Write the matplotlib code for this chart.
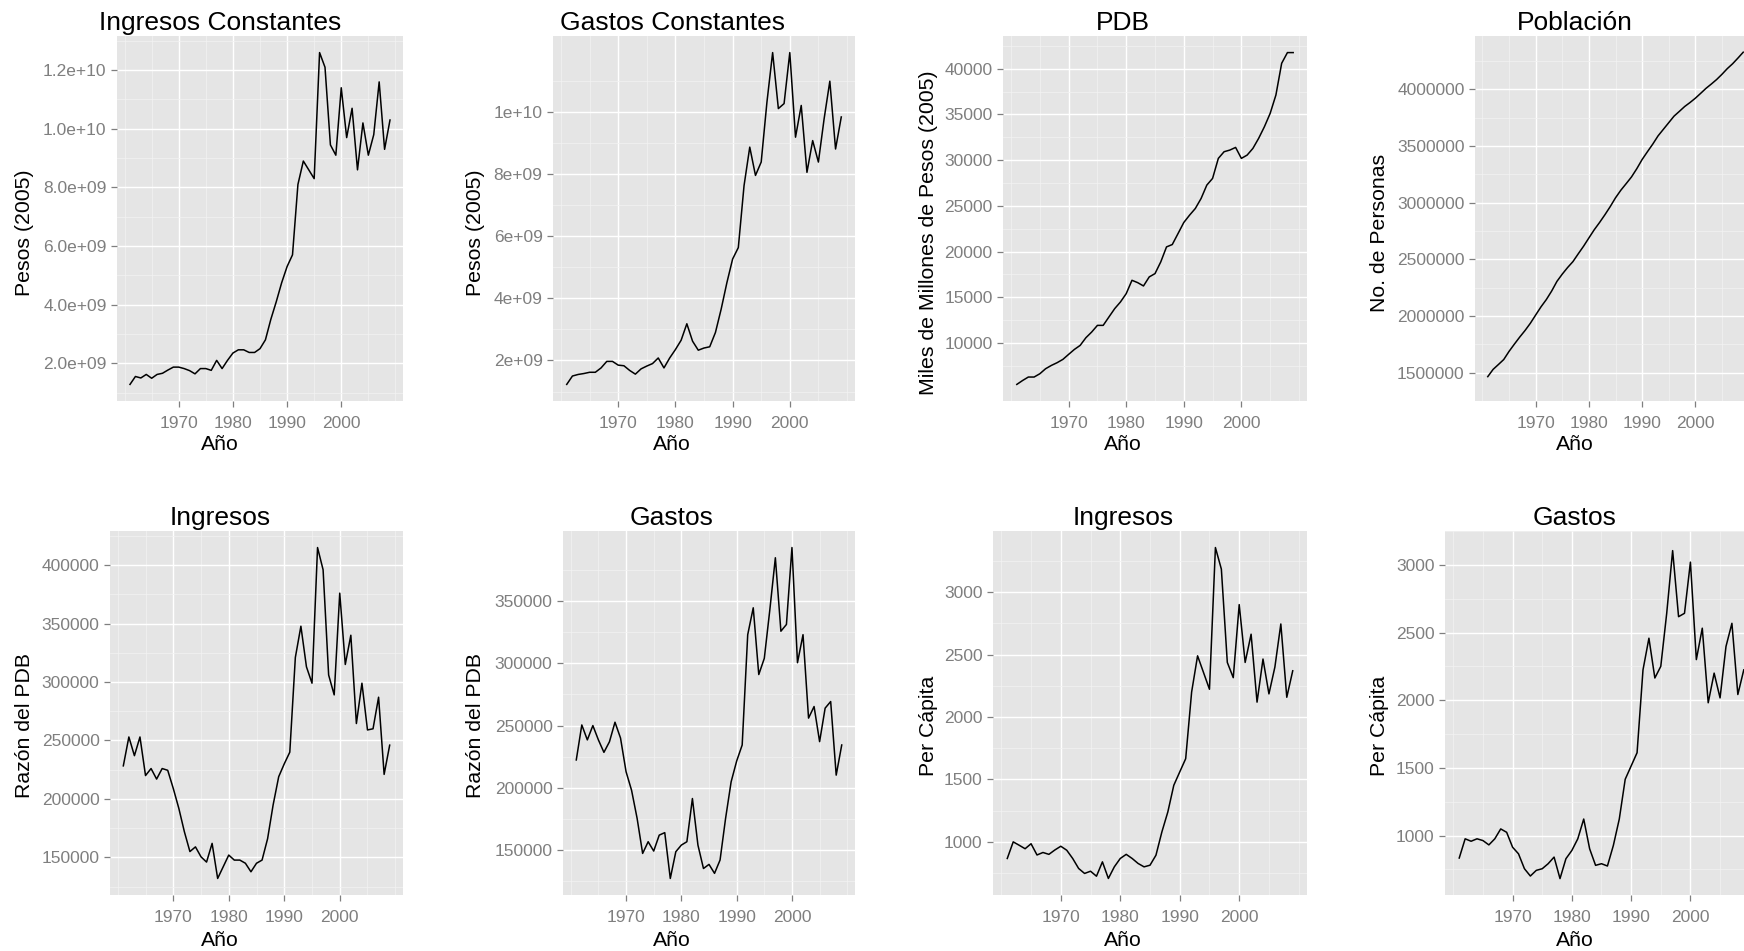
import numpy as np
import matplotlib
matplotlib.use("Agg")
import matplotlib.pyplot as plt

plt.rcParams['font.family'] = ['Liberation Sans', 'DejaVu Sans']

# Datos (1961-2009)
anios = np.arange(1961, 2010)

ingresos_const = [1.28, 1.55, 1.50, 1.62, 1.49, 1.62, 1.66, 1.77, 1.87, 1.87,
                  1.82, 1.75, 1.64, 1.82, 1.82, 1.76, 2.10, 1.82, 2.10, 2.35,
                  2.46, 2.46, 2.37, 2.37, 2.50, 2.80, 3.50, 4.10, 4.75, 5.30,
                  5.70, 8.10, 8.90, 8.60, 8.30, 12.60, 12.10, 9.45, 9.10, 11.40,
                  9.70, 10.70, 8.60, 10.20, 9.10, 9.80, 11.60, 9.30, 10.30]
ingresos_const = [v * 1e9 for v in ingresos_const]

gastos_const = [1.23, 1.50, 1.55, 1.58, 1.62, 1.62, 1.76, 1.97, 1.97, 1.85,
                1.83, 1.68, 1.56, 1.73, 1.82, 1.90, 2.08, 1.76, 2.08, 2.35,
                2.65, 3.18, 2.62, 2.33, 2.40, 2.44, 2.90, 3.65, 4.50, 5.26,
                5.63, 7.62, 8.86, 7.95, 8.38, 10.30, 11.90, 10.10, 10.26, 11.90,
                9.18, 10.20, 8.05, 9.07, 8.38, 9.77, 10.98, 8.80, 9.83]
gastos_const = [v * 1e9 for v in gastos_const]

pdb = [5474, 5900, 6280, 6280, 6640, 7190, 7550, 7850, 8210, 8760,
       9300, 9740, 10580, 11200, 11930, 11930, 12850, 13760, 14490, 15400,
       16860, 16600, 16240, 17230, 17590, 18870, 20510, 20770, 21970, 23180,
       23980, 24710, 25800, 27270, 28000, 30190, 30920, 31100, 31390, 30190,
       30550, 31280, 32380, 33650, 35110, 37120, 40590, 41760, 41760]

poblacion = [1465000, 1529000, 1572000, 1616000, 1688000, 1752000, 1814000, 1872000, 1936000, 2009000,
             2081000, 2145000, 2220000, 2306000, 2370000, 2428000, 2480000, 2549000, 2616000, 2689000,
             2761000, 2825000, 2893000, 2965000, 3043000, 3110000, 3168000, 3227000, 3300000, 3381000,
             3450000, 3517000, 3590000, 3648000, 3706000, 3764000, 3806000, 3849000, 3884000, 3922000,
             3965000, 4009000, 4047000, 4087000, 4133000, 4183000, 4226000, 4276000, 4328000]

ingresos_pdb = [228300, 253000, 237000, 253000, 220000, 226000, 217000, 226000, 224500, 209000,
                192000, 172000, 155000, 159000, 150500, 146000, 162000, 132000, 142000, 152000,
                147700, 147700, 145000, 137700, 145000, 147700, 166000, 195000, 219000, 230000,
                240000, 321000, 347700, 313000, 299000, 415000, 396000, 306000, 289000, 376000,
                315000, 340000, 264500, 299000, 259000, 260000, 287000, 221000, 246000]

gastos_pdb = [222400, 250500, 238500, 250000, 238500, 228500, 237000, 252700, 240000, 213000,
              198000, 175500, 147300, 156700, 149200, 162000, 164000, 127200, 148700, 154000,
              156700, 191400, 154000, 135200, 138500, 131300, 142000, 175500, 204800, 221500,
              234400, 323000, 344600, 291000, 304000, 343000, 384800, 325800, 331200, 393000,
              300500, 323000, 256000, 265300, 237100, 264000, 269300, 210200, 234400]

ingresos_pc = [867, 1000, 973, 945, 985, 895, 915, 900, 935, 965,
               933, 867, 787, 747, 765, 725, 840, 707, 800, 867,
               900, 867, 827, 800, 813, 893, 1080, 1240, 1453, 1560,
               1666, 2200, 2490, 2356, 2222, 3357, 3184, 2437, 2315, 2900,
               2437, 2663, 2119, 2464, 2185, 2400, 2745, 2158, 2370]

gastos_pc = [834, 976, 958, 976, 963, 931, 976, 1049, 1024, 914,
             865, 755, 701, 743, 755, 792, 841, 682, 829, 890,
             976, 1122, 902, 780, 792, 775, 927, 1122, 1416, 1514,
             1612, 2224, 2458, 2164, 2250, 2642, 3105, 2617, 2642, 3020,
             2300, 2532, 1981, 2200, 2017, 2397, 2568, 2042, 2224]

x_ticks = [1970, 1980, 1990, 2000]
x_labels = ['1970', '1980', '1990', '2000']

titulos = ['Ingresos Constantes', 'Gastos Constantes', 'PDB', 'Población',
           'Ingresos', 'Gastos', 'Ingresos', 'Gastos']
ylabels = ['Pesos (2005)', 'Pesos (2005)', 'Miles de Millones de Pesos (2005)', 'No. de Personas',
           'Razón del PDB', 'Razón del PDB', 'Per Cápita', 'Per Cápita']
series = [ingresos_const, gastos_const, pdb, poblacion,
          ingresos_pdb, gastos_pdb, ingresos_pc, gastos_pc]
y_ticks = [
    [2e9, 4e9, 6e9, 8e9, 1e10, 1.2e10],
    [2e9, 4e9, 6e9, 8e9, 1e10],
    [10000, 15000, 20000, 25000, 30000, 35000, 40000],
    [1500000, 2000000, 2500000, 3000000, 3500000, 4000000],
    [150000, 200000, 250000, 300000, 350000, 400000],
    [150000, 200000, 250000, 300000, 350000],
    [1000, 1500, 2000, 2500, 3000],
    [1000, 1500, 2000, 2500, 3000],
]
y_labels = [
    ['2.0e+09', '4.0e+09', '6.0e+09', '8.0e+09', '1.0e+10', '1.2e+10'],
    ['2e+09', '4e+09', '6e+09', '8e+09', '1e+10'],
    ['10000', '15000', '20000', '25000', '30000', '35000', '40000'],
    ['1500000', '2000000', '2500000', '3000000', '3500000', '4000000'],
    ['150000', '200000', '250000', '300000', '350000', '400000'],
    ['150000', '200000', '250000', '300000', '350000'],
    ['1000', '1500', '2000', '2500', '3000'],
    ['1000', '1500', '2000', '2500', '3000'],
]

W, H = 1744, 951
fig = plt.figure(figsize=(W / 100, H / 100), dpi=100)

# cajas de los paneles en pixeles: izquierda, derecha, arriba, abajo
cajas = [(117, 403, 36, 401), (553, 855, 36, 401), (1003, 1307, 36, 401), (1475, 1756, 36, 401),
         (110, 403, 531, 895), (563, 855, 531, 895), (993, 1307, 531, 895), (1445, 1758, 531, 895)]
centros_col = [220, 672, 1123, 1575]
ylab_x = [25, 475, 928, 1379]

gris = '#7F7F7F'

for i in range(8):
    l, r, t, b = cajas[i]
    ax = fig.add_axes([l / W, 1 - b / H, (r - l) / W, (b - t) / H])
    ax.set_facecolor('#E5E5E5')
    y = series[i]
    ax.plot(anios, y, color='black', lw=1.1, zorder=3)

    # expansion de 5% como ggplot
    xr = anios[-1] - anios[0]
    ax.set_xlim(anios[0] - 0.05 * xr, anios[-1] + 0.05 * xr)
    yr = max(y) - min(y)
    ax.set_ylim(min(y) - 0.05 * yr, max(y) + 0.05 * yr)

    ax.set_xticks(x_ticks)
    ax.set_xticklabels(x_labels)
    ax.set_xticks([1960, 1965, 1975, 1985, 1995, 2005, 2010], minor=True)
    yt = y_ticks[i]
    paso = yt[1] - yt[0]
    ax.set_yticks(yt)
    ax.set_yticklabels(y_labels[i])
    ax.set_yticks(np.arange(yt[0] - paso / 2, yt[-1] + paso, paso), minor=True)

    ax.grid(which='major', color='white', lw=1.0, zorder=1)
    ax.grid(which='minor', color='#F2F2F2', lw=0.55, zorder=0)
    ax.set_axisbelow(True)
    for s in ax.spines.values():
        s.set_visible(False)
    ax.tick_params(which='major', length=4.5, width=0.9, color=gris, labelcolor=gris,
                   labelsize=12.5)
    ax.tick_params(axis='x', which='major', pad=6.5)
    ax.tick_params(axis='y', which='major', pad=3)
    ax.tick_params(which='minor', length=0)

    col = i % 4
    fila = i // 4
    yt_titulo = 23 if fila == 0 else 518
    yt_anio = 445 if fila == 0 else 940
    yl_centro = 233 if fila == 0 else 726
    fig.text(centros_col[col] / W, 1 - yt_titulo / H, titulos[i], ha='center', va='center',
             fontsize=19)
    fig.text(centros_col[col] / W, 1 - yt_anio / H, 'Año', ha='center', va='center',
             fontsize=15.3)
    fig.text(ylab_x[col] / W, 1 - yl_centro / H, ylabels[i], ha='center', va='center',
             rotation=90, fontsize=15.3)

fig.savefig('out.png', dpi=100, facecolor='white')
